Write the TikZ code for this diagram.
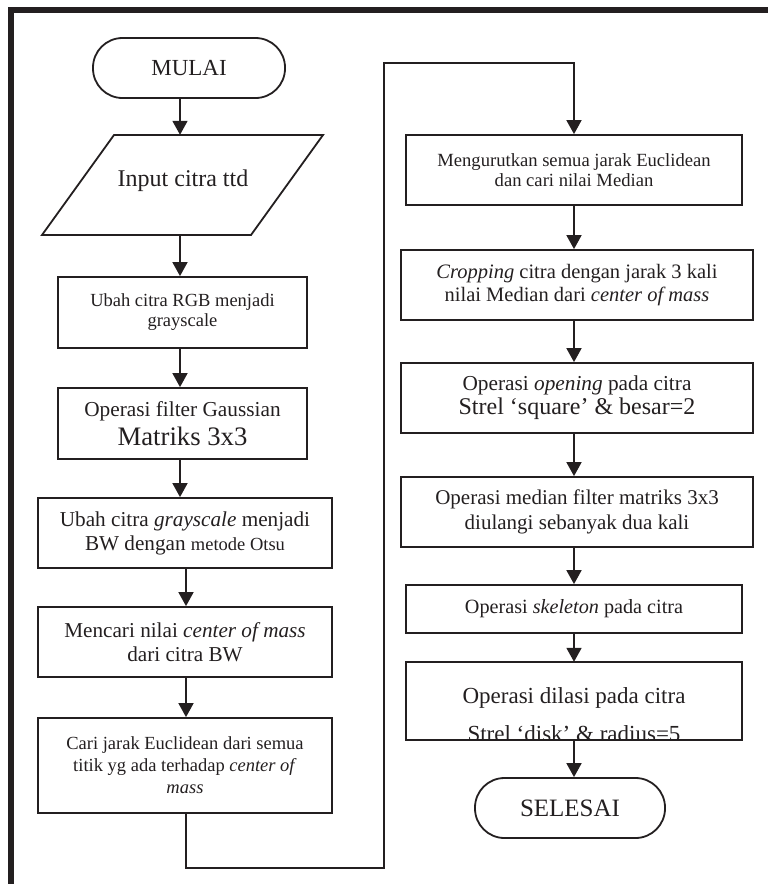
\documentclass[tikz,border=0pt]{standalone}
\usepackage{fontspec}
\setmainfont{Liberation Serif}
\usetikzlibrary{arrows.meta}
\definecolor{ink}{HTML}{231F20}
\begin{document}
\begin{tikzpicture}[x=1pt,y=-1pt,
  box/.style={draw=ink, line width=1.8pt, rectangle, align=center, inner sep=0pt, text=ink},
  term/.style={draw=ink, line width=1.8pt, rectangle, rounded corners=29.5pt, inner sep=0pt, text=ink},
  plain/.style={inner sep=0pt, text=ink, align=center},
  arr/.style={draw=ink, line width=1.8pt, -{Triangle[width=15pt,length=14pt]}},
  conn/.style={draw=ink, line width=1.8pt}]
\useasboundingbox (0,0) rectangle (768,884);
% outer frame
\draw[ink, line width=5.5pt, line join=miter] (11,884) -- (11,9.8) -- (768,9.8);

% left column
\node[term, minimum width=192pt, minimum height=60pt, font=\fontsize{23}{26}\selectfont] (mulai) at (189,68) {MULAI};
\draw[ink, line width=1.8pt, line join=miter] (114,135) -- (323,135) -- (251,235) -- (42,235) -- cycle;
\node[plain, minimum width=150pt, minimum height=100pt] (input) at (182.5,185) {};
\node[plain, font=\fontsize{24}{27}\selectfont] (inputtxt) at (183,181) {Input citra ttd};
\node[box, minimum width=249pt, minimum height=71pt, font=\fontsize{18.5}{20}\selectfont] (b1) at (182.5,312.5) {Ubah citra RGB menjadi\\grayscale};
\node[box, minimum width=249pt, minimum height=71pt, font=\fontsize{21.3}{29}\selectfont] (b2) at (182.5,423.5) {Operasi filter Gaussian\\{\fontsize{26.7}{29}\selectfont Matriks 3x3}};
\node[box, minimum width=294pt, minimum height=70pt, font=\fontsize{21.2}{24}\selectfont] (b3) at (185,533) {Ubah citra \textit{grayscale} menjadi\\BW dengan {\fontsize{18.5}{24}\selectfont metode Otsu}};
\node[box, minimum width=294pt, minimum height=70pt, font=\fontsize{21.2}{24}\selectfont] (b4) at (185,642) {Mencari nilai \textit{center of mass}\\dari citra BW};
\node[box, minimum width=294pt, minimum height=95pt, font=\fontsize{18.5}{22}\selectfont] (b5) at (185,765.5) {Cari jarak Euclidean dari semua\\titik yg ada terhadap \textit{center of}\\\textit{mass}};

% right column
\node[box, minimum width=336pt, minimum height=70pt, font=\fontsize{18.6}{20.5}\selectfont] (r1) at (574,170) {Mengurutkan semua jarak Euclidean\\dan cari nilai Median};
\node[box, minimum width=352pt, minimum height=70pt, font=\fontsize{20.5}{23}\selectfont] (r2) at (577,285) {\textit{Cropping} citra dengan jarak 3 kali\\nilai Median dari \textit{center of mass}};
\node[box, minimum width=352pt, minimum height=70pt, font=\fontsize{21.3}{24}\selectfont] (r3) at (577,398) {Operasi \textit{opening} pada citra\\{\fontsize{24}{24}\selectfont Strel ‘square’ \& besar=2}};
\node[box, minimum width=352pt, minimum height=70pt, font=\fontsize{21}{25}\selectfont] (r4) at (577,512) {Operasi median filter matriks 3x3\\diulangi sebanyak dua kali};
\node[box, minimum width=336pt, minimum height=48pt, font=\fontsize{20.2}{23}\selectfont] (r5) at (574,609) {Operasi \textit{skeleton} pada citra};
\node[plain, minimum width=336pt, minimum height=78pt] (r6) at (574,701) {};
\begin{scope}
  \clip (r6.north west) rectangle (r6.south east);
  \node[plain, anchor=base, font=\fontsize{23}{26}\selectfont] (r6a) at (574,703.5) {Operasi dilasi pada citra};
  \node[plain, anchor=base, font=\fontsize{23}{26}\selectfont] (r6b) at (574,741) {Strel ‘disk’ \& radius=5};
\end{scope}
\draw[ink, line width=1.8pt] (r6.north west) rectangle (r6.south east);
\node[term, minimum width=190pt, minimum height=60pt, font=\fontsize{25}{28}\selectfont] (selesai) at (570,808) {SELESAI};

% connectors
\coordinate (xa) at (180,0);
\coordinate (xb) at (186,0);
\coordinate (xr) at (574,0);
\draw[arr] (mulai.south -| xa) -- (input.north -| xa);
\draw[arr] (input.south -| xa) -- (b1.north -| xa);
\draw[arr] (b1.south -| xa) -- (b2.north -| xa);
\draw[arr] (b2.south -| xa) -- (b3.north -| xa);
\draw[arr] (b3.south -| xb) -- (b4.north -| xb);
\draw[arr] (b4.south -| xb) -- (b5.north -| xb);
\coordinate (k1) at (186,868);
\coordinate (k2) at (384,868);
\coordinate (k3) at (384,63);
\coordinate (k4) at (574,63);
\draw[arr, line join=miter] (b5.south -| xb) -- (k1) -- (k2) -- (k3) -- (k4) -- (r1.north -| xr);
\draw[arr] (r1.south -| xr) -- (r2.north -| xr);
\draw[arr] (r2.south -| xr) -- (r3.north -| xr);
\draw[arr] (r3.south -| xr) -- (r4.north -| xr);
\draw[arr] (r4.south -| xr) -- (r5.north -| xr);
\draw[arr] (r5.south -| xr) -- (r6.north -| xr);
\draw[arr] (r6.south -| xr) -- (selesai.north -| xr);
\end{tikzpicture}
\end{document}
